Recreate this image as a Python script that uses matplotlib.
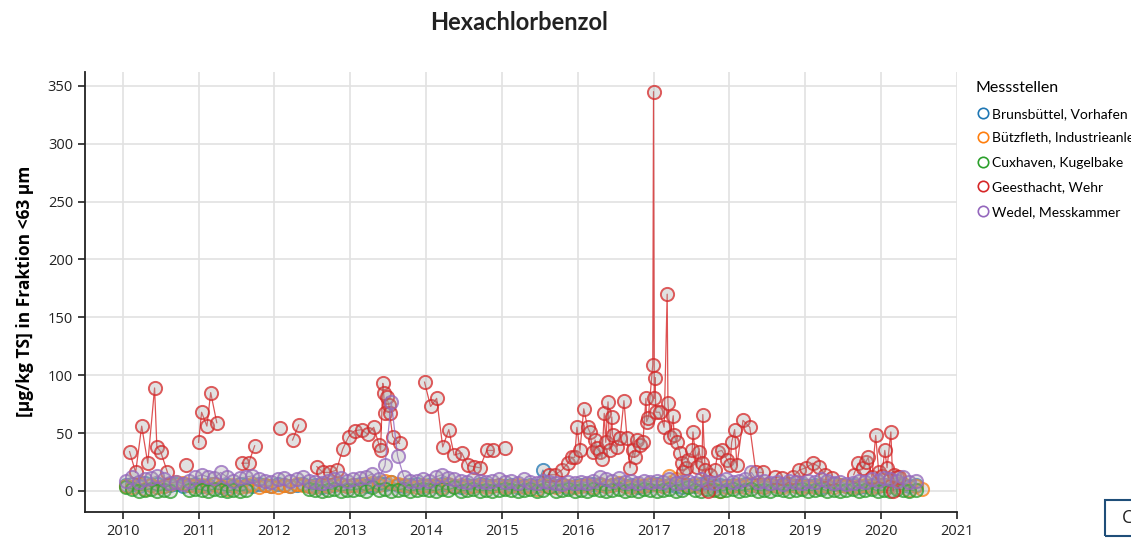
import numpy as np
import matplotlib
matplotlib.use("Agg")
import matplotlib.pyplot as plt
from matplotlib.lines import Line2D
from matplotlib.patches import Rectangle
from matplotlib.colors import to_rgba

plt.rcParams['font.family'] = ['Open Sans', 'DejaVu Sans']
narrow = ['Lato', 'DejaVu Sans']

nan = np.nan

stations = ["Brunsbüttel, Vorhafen Neue Schleuse", "Bützfleth, Industrieanleger",
            "Cuxhaven, Kugelbake", "Geesthacht, Wehr", "Wedel, Messkammer"]
colors = ["#1f77b4", "#ff7f0e", "#2ca02c", "#d62728", "#9467bd"]

# Geesthacht (decimal year, value); nan breaks the line
geest_t = [2010.09, 2010.17, 2010.25, 2010.33, 2010.42, 2010.45, 2010.50, 2010.59, 2010.70,
           2010.83, 2010.92,
           2011.00, 2011.04, 2011.11, 2011.16, 2011.24, 2011.40,
           2011.57, 2011.66, 2011.74, 2011.90,
           2012.07, 2012.15,
           2012.24, 2012.32, 2012.45,
           2012.56, 2012.64, 2012.73, 2012.82, 2012.90, 2012.98, 2013.06, 2013.15, 2013.23,
           2013.31, 2013.38, 2013.40, 2013.43, 2013.44, 2013.46, 2013.48, 2013.51, 2013.52,
           2013.56, 2013.65, 2013.80,
           2013.98, 2014.06, 2014.14, 2014.22, 2014.30, 2014.37, 2014.47, 2014.55, 2014.63,
           2014.71, 2014.80, 2014.88, 2014.95,
           2015.04, 2015.30,
           2015.62, 2015.70, 2015.79, 2015.87, 2015.92, 2015.96, 2015.99, 2016.03, 2016.08,
           2016.13, 2016.16, 2016.20, 2016.23, 2016.25, 2016.29, 2016.32, 2016.35, 2016.37,
           2016.40, 2016.42, 2016.45, 2016.46, 2016.52, 2016.56, 2016.61, 2016.65, 2016.69,
           2016.73, 2016.75, 2016.78, 2016.82, 2016.86, 2016.90, 2016.91, 2016.93, 2016.99,
           2017.00, 2017.01, 2017.02, 2017.03, 2017.08, 2017.14, 2017.18, 2017.19, 2017.22,
           2017.26, 2017.27, 2017.31, 2017.35, 2017.37, 2017.39, 2017.43, 2017.45, 2017.51,
           2017.52, 2017.57, 2017.60, 2017.64, 2017.65, 2017.68, 2017.72, 2017.74, 2017.81,
           2017.85, 2017.90, 2017.97, 2018.01, 2018.03, 2018.07, 2018.10, 2018.18, 2018.27,
           2018.35, 2018.44, 2018.52,
           2018.60, 2018.69, 2018.76,
           2018.84, 2018.92, 2019.01, 2019.10, 2019.18, 2019.26, 2019.35, 2019.50,
           2019.64, 2019.70, 2019.76, 2019.80, 2019.83, 2019.88, 2019.93, 2019.97, 2020.01,
           2020.05, 2020.08, 2020.13, 2020.16, 2020.17, 2020.21, 2020.24, 2020.30]
geest_v = [34, 16, 56, 24, 89, 38, 34, 16, nan,
           22, nan,
           42, 68, 56, 85, 59, nan,
           24, 24, 39, nan,
           54, nan,
           44, 57, nan,
           21, 16, 16, 18, 36, 47, 52, 53, 49,
           55, 40, 35, 93, 85, 67, 81, 74, 67,
           47, 41, nan,
           94, 73, 80, 38, 53, 31, 33, 22, 21,
           20, 35, 35, nan,
           37, nan,
           14, 14, 18, 24, 29, 29, 55, 35, 71,
           55, 51, 34, 44, 37, 34, 28, 67, 42,
           77, 35, 64, 48, 38, 46, 78, 46, 20,
           35, 29, 44, 40, 42, 80, 60, 63, 109,
           345, 80, 98, 68, 68, 55, 170, 76, 47,
           65, 48, 42, 33, 24, 16, 20, 27, 35,
           51, 21, 34, 24, 66, 18, 0, 14, 18,
           34, 35, 27, 22, 42, 53, 22, 61, 55,
           16, 16, nan,
           12, 11, nan,
           12, 18, 20, 24, 21, 14, 11, nan,
           14, 24, 20, 25, 29, 12, 48, 16, 13,
           35, 20, 51, 0, 14, 12, 12, nan]

# monthly samples for the low-level stations, starting Jan 2010
wedel_v = [9, 12, 8, 10, 11, 13, 10, 7, 8, 6, 9, 12,
           14, 12, 11, 16, 12, 9, 11, 12, 13, 10, 9, 8,
           10, 11, 9, 10, 12, 9, 8, 7, 9, 10, 11, 9,
           10, 11, 12, 15, 10, 22, 77, 30, 12, 9, 9, 10,
           9, 12, 14, 11, 10, 9, 8, 10, 9, 8, 9, 10,
           8, 9, 7, 10, 8, 7, 9, 8, 7, 6, 8, 7,
           8, 7, 9, 12, 10, 9, 11, 8, 9, 7, 9, 8,
           9, 8, 10, 7, 8, 9, 7, 10, 8, 7, 9, 10,
           8, 9, 10, 16, 8, 9, 7, 8, 6, 9, 8, 7,
           9, 8, 10, 9, 7, 8, 6, 7, 9, 8, 10, 9,
           11, 10, 9, 12, 8, 9]
cux_v = [3, 2, 0, 1, 2, 0, 1, 0, nan, nan, 1, 2,
         1, 0, 2, 1, 0, 1, 0, 1, nan, nan, nan, nan,
         nan, nan, nan, nan, nan, 2, 1, 0, 1, 2, 0, 1,
         1, 2, 0, 3, 1, 2, 0, 1, 2, 0, 1, 2,
         1, 0, 2, 1, 3, 0, 1, 2, 0, 1, 0, 1,
         2, 1, 0, 1, 2, 0, 1, 3, 0, 1, 2, 0,
         1, 0, 2, 1, 0, 1, 2, 0, 1, 0, 2, 1,
         0, 1, 2, 0, 1, 3, 1, 0, 2, 1, 0, 1,
         2, 0, 1, 2, 0, 1, 0, 2, 1, 0, 1, 2,
         0, 1, 2, 0, 1, 0, 1, 2, 0, 1, 2, 0,
         1, 0, 2, 1, 0, 1]
buetz_v = [4, 3, 6, 2, 5, 3, 4, 6, 8, 7, 5, 4,
           5, 3, 6, 4, 2, 5, 3, 4, 6, 3, 5, 4,
           3, 5, 4, 6, 5, 4, 3, 5, 4, 6, 5, 4,
           5, 4, 6, 7, 5, 9, 8, 6, 5, 4, 3, 5,
           4, 5, 3, 6, 4, 5, 3, 4, 5, 3, 4, 5,
           3, 4, 5, 3, 4, 2, 5, 4, 3, 5, 4, 3,
           4, 5, 3, 6, 4, 5, 7, 4, 3, 5, 4, 6,
           5, 4, 13, 10, 6, 4, 5, 3, 4, 2, 0, 3,
           4, 5, 3, 6, 4, 3, 5, 4, 3, 5, 4, 3,
           4, 3, 5, 4, 3, 5, 4, 3, 4, 5, 3, 4,
           5, 4, 3, 6, 1, 4, 2]
bruns_v = [5, 6, 4, 7, 5, 6, 4, 5, 6, 4, 5, 6,
           4, 5, 6, 3, 5, 4, 6, 5, 4, 6, 5, 4,
           6, 5, 4, 5, 6, 4, 5, 3, 4, 5, 6, 4,
           5, 6, 4, 5, 7, 6, 8, 5, 4, 5, 6, 4,
           5, 4, 6, 5, 4, 3, 5, 4, 6, 5, 4, 5,
           4, 5, 3, 4, 5, 4, 18, 6, 4, 5, 3, 4,
           5, 4, 6, 5, 4, 5, 6, 4, 5, 3, 4, 5,
           6, 4, 5, 4, 3, 5, 4, 6, 5, 4, 5, 4,
           5, 4, 6, 5, 4, 3, 5, 4, 5, 6, 4, 5,
           4, 5, 3, 4, 6, 5, 4, 5, 3, 4, 5, 4,
           5, 4, 6, 5, 4, 5]

xticks = list(range(2010, 2022))
yticks = [0, 50, 100, 150, 200, 250, 300, 350]


def monthly(vals):
    return 2010 + (np.arange(len(vals)) + 0.5) / 12


fig = plt.figure(figsize=(11.31, 5.41), dpi=100)
ax = fig.add_axes([0.075, 0.054, 0.771, 0.813])

fill = (0.62, 0.62, 0.62, 0.30)

series = [(monthly(bruns_v), bruns_v, 2), (monthly(buetz_v), buetz_v, 3),
          (monthly(cux_v), cux_v, 4), (geest_t, geest_v, 5), (monthly(wedel_v), wedel_v, 6)]
for (t, v, z), c in zip(series, colors):
    ax.plot(t, v, color=to_rgba(c, 0.8), marker="o", markersize=9.5, markerfacecolor=fill,
            markeredgecolor=to_rgba(c, 0.75), markeredgewidth=1.4, linewidth=0.9, zorder=z)

ax.set_xlim(2009.5, 2021.0)
ax.set_ylim(-18, 362)
ax.set_xticks(xticks)
ax.set_xticklabels([str(x) for x in xticks])
ax.set_yticks(yticks)
ax.tick_params(axis="both", labelsize=10.5, length=5, width=1.2, colors="#222222")
ax.grid(True, color="#e2e2e2", linewidth=1.2)
ax.set_axisbelow(True)
for s in ["top", "right"]:
    ax.spines[s].set_visible(False)
for s in ["left", "bottom"]:
    ax.spines[s].set_linewidth(1.3)
    ax.spines[s].set_color("#222222")

ax.set_ylabel("[µg/kg TS] in Fraktion <63 µm", fontsize=12.5, fontweight="bold", labelpad=10)
fig.text(0.459, 0.958, "Hexachlorbenzol", ha="center", va="center", fontsize=17,
         fontweight="bold", family=narrow, color="#222222")

handles = [Line2D([], [], marker="o", linestyle="none", markersize=7.5, markerfacecolor="none",
                  markeredgecolor=c, markeredgewidth=1.2) for c in colors]
leg = fig.legend(handles, stations, loc="upper left", bbox_to_anchor=(0.858, 0.860),
                 frameon=False, prop={"family": narrow, "size": 10},
                 title="Messstellen", title_fontproperties={"family": narrow, "size": 11.5},
                 handletextpad=0.15, handlelength=1.0, labelspacing=0.9, borderaxespad=0)
leg._legend_box.align = "left"

fig.patches.append(Rectangle((0.977, 0.01), 0.05, 0.065, transform=fig.transFigure,
                             fill=False, edgecolor="#1f4e79", linewidth=1.5))
fig.text(0.992, 0.043, "C", fontsize=13, va="center", ha="left", color="#222222")

fig.savefig("out.png", dpi=100)
